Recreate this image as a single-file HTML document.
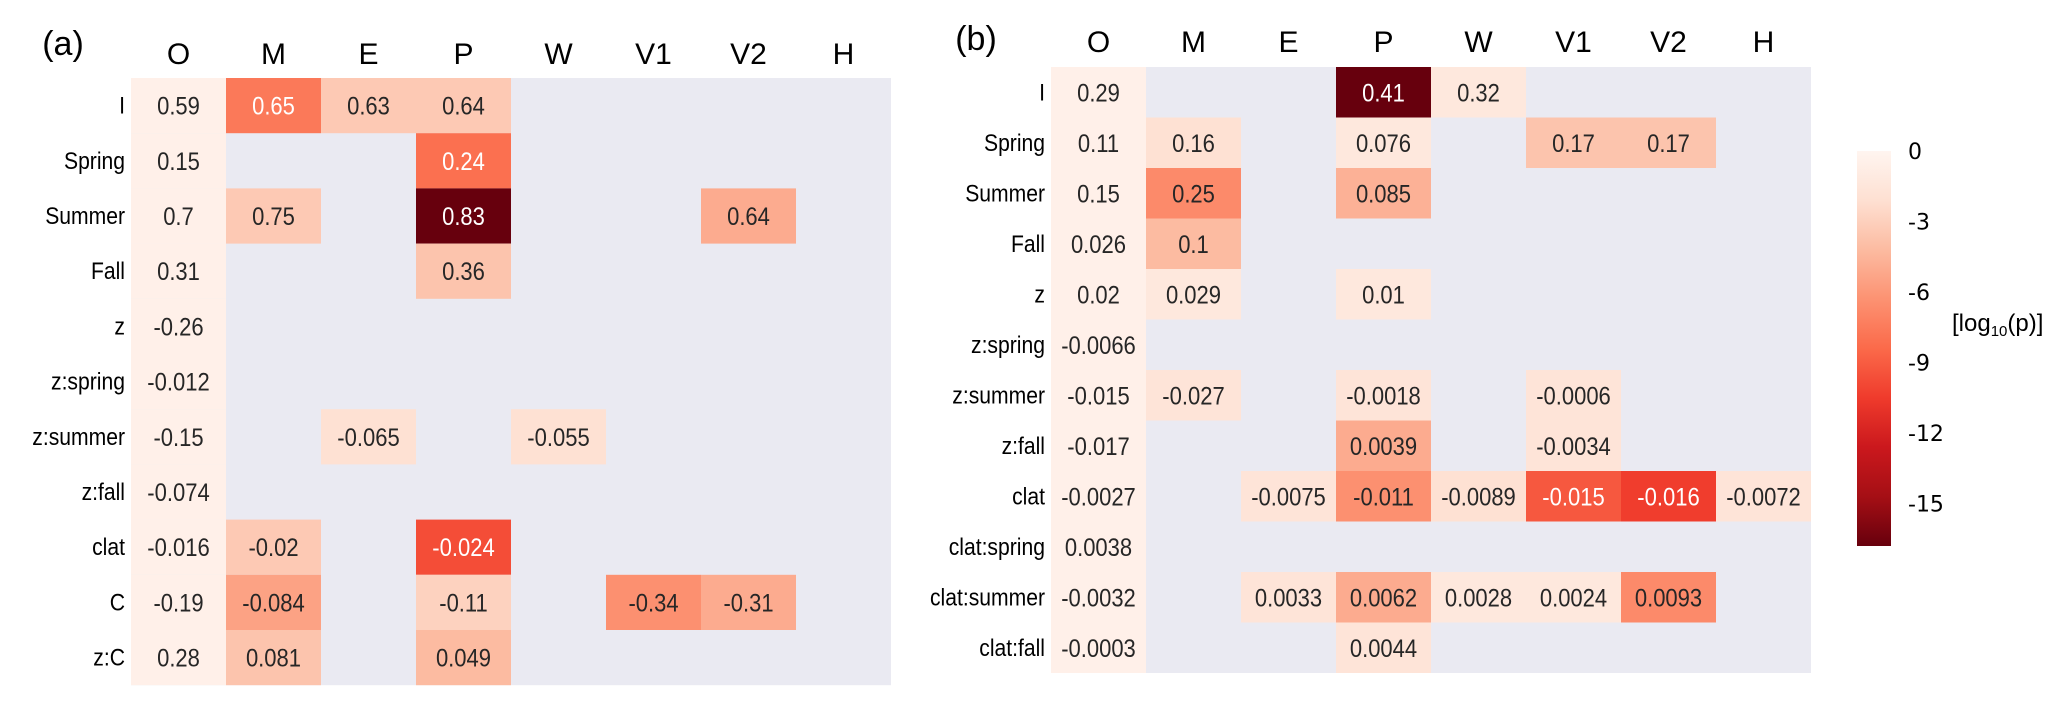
<!DOCTYPE html>
<html><head><meta charset="utf-8"><style>
html,body{margin:0;padding:0;background:#fff;}
svg{display:block;font-family:"Liberation Sans Narrow","Liberation Sans",sans-serif;}
</style></head><body>
<svg id="chart" width="2067" height="705" viewBox="0 0 2067 705" xmlns="http://www.w3.org/2000/svg">
<defs><linearGradient id="reds" x1="0" y1="0" x2="0" y2="1">
<stop offset="0" stop-color="#fff5f0"/><stop offset="0.125" stop-color="#fee0d2"/><stop offset="0.25" stop-color="#fcbba1"/><stop offset="0.375" stop-color="#fc9272"/><stop offset="0.5" stop-color="#fb6a4a"/><stop offset="0.625" stop-color="#ef3b2c"/><stop offset="0.75" stop-color="#cb181d"/><stop offset="0.875" stop-color="#a50f15"/><stop offset="1" stop-color="#67000d"/>
</linearGradient></defs>
<text x="63" y="55" font-size="34" text-anchor="middle">(a)</text>
<text x="976" y="50" font-size="34" text-anchor="middle">(b)</text>
<rect x="1857" y="151" width="34" height="395" fill="url(#reds)"/>
<text x="1952" y="331" font-size="24">[log<tspan font-size="15" dy="5">10</tspan><tspan dy="-5">(p)]</tspan></text>
</svg>
<script>
const cols = ["O","M","E","P","W","V1","V2","H"];
const rowsA = ["I","Spring","Summer","Fall","z","z:spring","z:summer","z:fall","clat","C","z:C"];
const rowsB = ["I","Spring","Summer","Fall","z","z:spring","z:summer","z:fall","clat","clat:spring","clat:summer","clat:fall"];
// coefficient values (null = empty)
const valsA = [
["0.59","0.65","0.63","0.64",null,null,null,null],
["0.15",null,null,"0.24",null,null,null,null],
["0.7","0.75",null,"0.83",null,null,"0.64",null],
["0.31",null,null,"0.36",null,null,null,null],
["-0.26",null,null,null,null,null,null,null],
["-0.012",null,null,null,null,null,null,null],
["-0.15",null,"-0.065",null,"-0.055",null,null,null],
["-0.074",null,null,null,null,null,null,null],
["-0.016","-0.02",null,"-0.024",null,null,null,null],
["-0.19","-0.084",null,"-0.11",null,"-0.34","-0.31",null],
["0.28","0.081",null,"0.049",null,null,null,null]];
const logpA = [
[-0.5,-7.6,-3.4,-3.4,null,null,null,null],
[-0.5,null,null,-8.1,null,null,null,null],
[-0.5,-3.4,null,-16.8,null,null,-5.0,null],
[-0.5,null,null,-3.7,null,null,null,null],
[-0.5,null,null,null,null,null,null,null],
[-0.5,null,null,null,null,null,null,null],
[-0.5,null,-2.0,null,-2.0,null,null,null],
[-0.5,null,null,null,null,null,null,null],
[-0.5,-3.4,null,-9.7,null,null,null,null],
[-0.5,-5.5,null,-2.9,null,-6.4,-5.0,null],
[-0.5,-3.7,null,-4.2,null,null,null,null]];
const valsB = [
["0.29",null,null,"0.41","0.32",null,null,null],
["0.11","0.16",null,"0.076",null,"0.17","0.17",null],
["0.15","0.25",null,"0.085",null,null,null,null],
["0.026","0.1",null,null,null,null,null,null],
["0.02","0.029",null,"0.01",null,null,null,null],
["-0.0066",null,null,null,null,null,null,null],
["-0.015","-0.027",null,"-0.0018",null,"-0.0006",null,null],
["-0.017",null,null,"0.0039",null,"-0.0034",null,null],
["-0.0027",null,"-0.0075","-0.011","-0.0089","-0.015","-0.016","-0.0072"],
["0.0038",null,null,null,null,null,null,null],
["-0.0032",null,"0.0033","0.0062","0.0028","0.0024","0.0093",null],
["-0.0003",null,null,"0.0044",null,null,null,null]];
const logpB = [
[-0.5,null,null,-16.8,-1.3,null,null,null],
[-0.5,-2.0,null,-1.3,null,-3.7,-3.7,null],
[-0.5,-6.7,null,-4.7,null,null,null,null],
[-0.5,-4.2,null,null,null,null,null,null],
[-0.5,-1.3,null,-1.3,null,null,null,null],
[-0.5,null,null,null,null,null,null,null],
[-0.5,-1.7,null,-1.7,null,-1.7,null,null],
[-0.5,null,null,-5.0,null,-1.7,null,null],
[-0.5,null,-1.7,-6.4,-2.0,-9.2,-10.4,-1.7],
[-0.5,null,null,null,null,null,null,null],
[-0.5,null,-1.7,-5.0,-1.3,-1.3,-6.7,null],
[-0.5,null,null,-1.7,null,null,null,null]];
const cbTicks = [0,-3,-6,-9,-12,-15];
const VMIN = -16.8;

const svg = document.getElementById('chart');
const NS = 'http://www.w3.org/2000/svg';
const stops = [[255,245,240],[254,224,210],[252,187,161],[252,146,114],[251,106,74],[239,59,44],[203,24,29],[165,15,21],[103,0,13]];
function color(lp){
  let t = Math.max(0, Math.min(1, lp / VMIN));
  const f = t * 8, i = Math.min(7, Math.floor(f)), r = f - i;
  const c = stops[i].map((v, k) => Math.round(v + (stops[i+1][k] - v) * r));
  return 'rgb(' + c.join(',') + ')';
}
function mk(tag, attrs){
  const e = document.createElementNS(NS, tag);
  for (const k in attrs) e.setAttribute(k, attrs[k]);
  svg.appendChild(e); return e;
}
function condense(t){
  try { const w = t.getComputedTextLength(); if (w > 0) { t.setAttribute('textLength', (w*0.88).toFixed(1)); t.setAttribute('lengthAdjust','spacingAndGlyphs'); } } catch(e) {}
}
function panel(p, rows, vals, logp, x0, y0, cw, rh, headY){
  const bg = mk('rect', {x:x0, y:y0, width:cw*8, height:rh*rows.length, fill:'#eaeaf2'});
  
  
  cols.forEach((c, j) => {
    const t = mk('text', {x:x0 + cw*(j+0.5), y:headY, 'font-size':30, 'text-anchor':'middle'});
    t.textContent = c;
    
    
  });
  rows.forEach((r, i) => {
    const cy = y0 + rh*(i+0.5);
    const t = mk('text', {x:x0 - 6, y:cy + 8, 'font-size':24, 'text-anchor':'end'});
    t.textContent = r;
    
    
    condense(t);
    cols.forEach((c, j) => {
      const v = vals[i][j], lp = logp[i][j];
      if (v === null || lp === null) return;
      const cell = mk('rect', {x:x0 + cw*j, y:y0 + rh*i, width:cw, height:rh, fill:color(lp)});
      
      
      const tx = mk('text', {x:x0 + cw*(j+0.5), y:cy + 9, 'font-size':25, 'text-anchor':'middle', fill:(lp / VMIN >= 0.45 ? '#fff' : '#262626')});
      tx.textContent = v;
      
      
      condense(tx);
    });
  });
}
panel('a', rowsA, valsA, logpA, 131, 78, 95, 55.2, 64);
panel('b', rowsB, valsB, logpB, 1051, 67, 95, 50.5, 52);
const cbTop = 151, cbBot = 546;
cbTicks.forEach(v => {
  const y = cbTop + (cbBot - cbTop) * (v / VMIN);
  const t = mk('text', {x:1908, y:y + 8, 'font-size':22, 'font-family':'DejaVu Sans, sans-serif'});
  t.textContent = v === 0 ? '0' : '-' + Math.abs(v);
  
  
});
</script>
</body></html>
